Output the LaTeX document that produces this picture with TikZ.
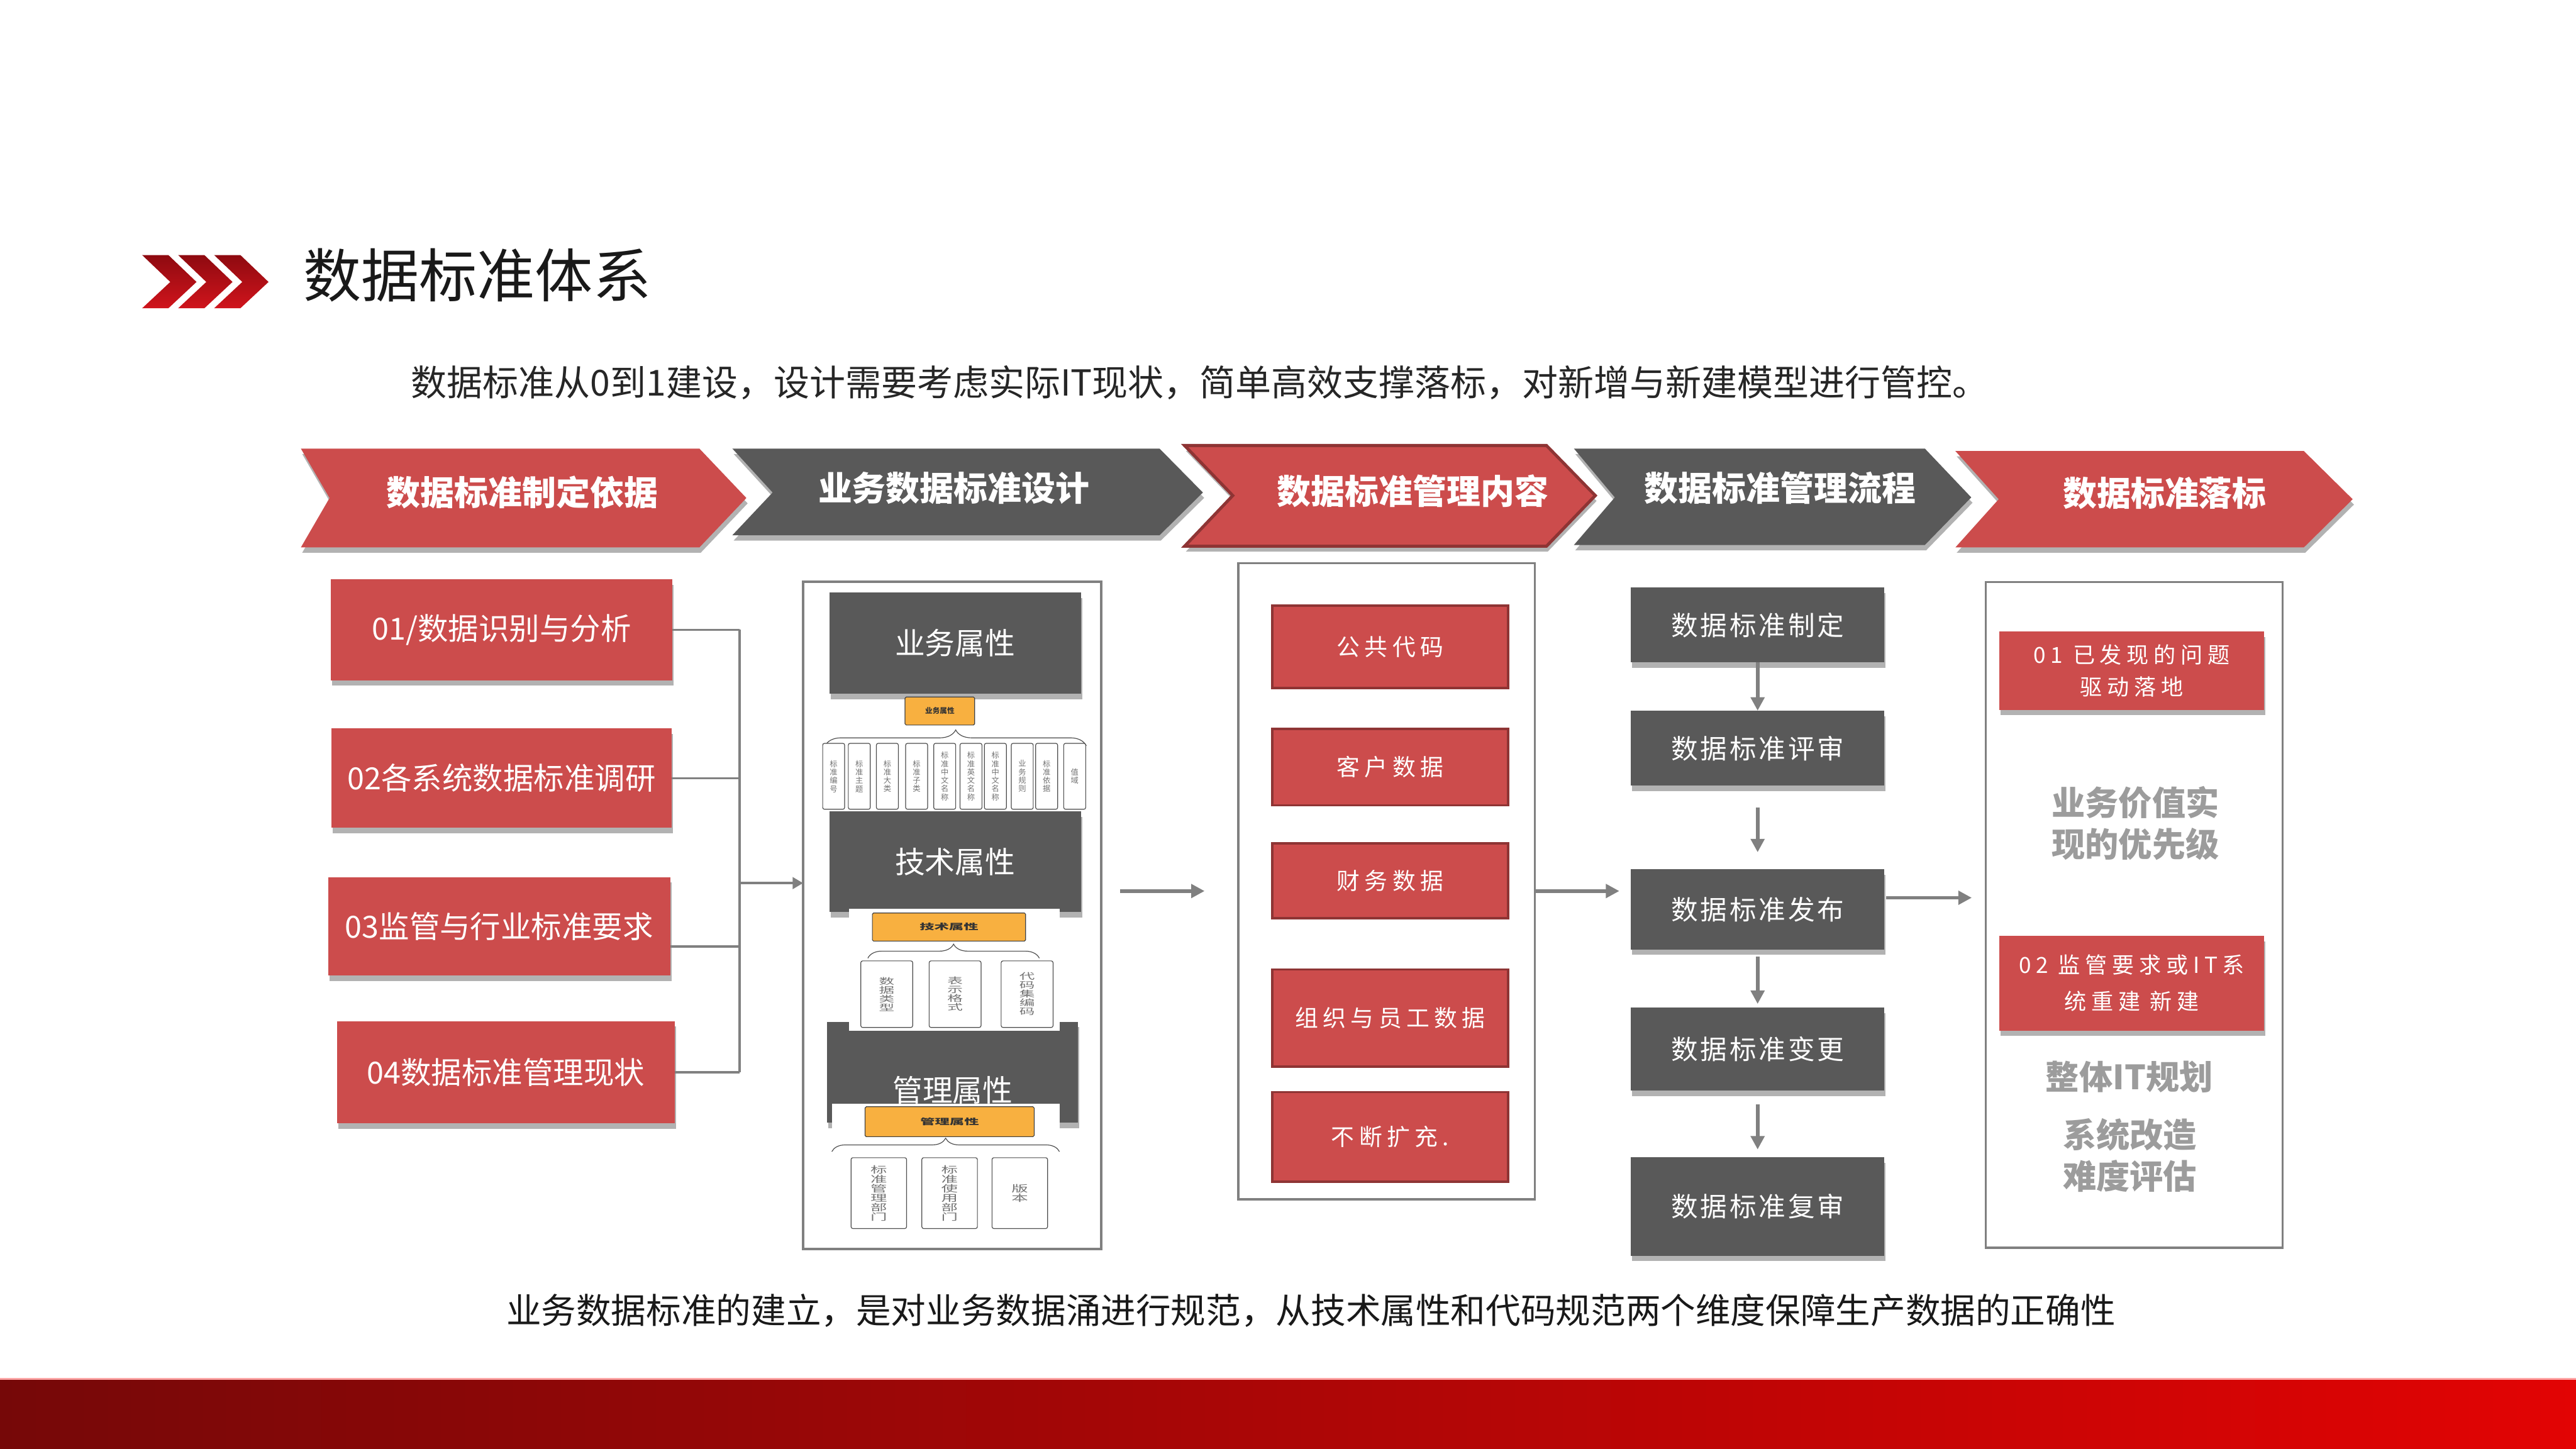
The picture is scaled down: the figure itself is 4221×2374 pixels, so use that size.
\documentclass[tikz,border=0pt]{standalone}
\usepackage{fontspec}
\setmainfont{Noto Sans CJK SC}
\newfontfamily\spacedA[LetterSpace=9]{Noto Sans CJK SC}
\newfontfamily\spacedB[LetterSpace=20]{Noto Sans CJK SC}
\newfontfamily\spacedC[LetterSpace=22]{Noto Sans CJK SC}
\newfontfamily\wideCJK[FakeStretch=1.8]{Noto Sans CJK SC}
\usetikzlibrary{arrows.meta, shadows, decorations.pathreplacing}

\definecolor{boxred}{HTML}{CC4C4C}
\definecolor{darkred}{HTML}{8E3434}
\definecolor{boxgray}{HTML}{595959}
\definecolor{linegray}{HTML}{808080}
\definecolor{attrorange}{HTML}{F8B040}
\definecolor{softgray}{HTML}{9C9C9C}
\definecolor{chevdark}{HTML}{8E0A10}
\definecolor{chevred}{HTML}{D0141C}
\definecolor{banddark}{HTML}{760808}
\definecolor{bandred}{HTML}{E20404}

\begin{document}
\begin{tikzpicture}[x=0.01cm, y=-0.01cm,
    >={Triangle[length=0.22cm, width=0.22cm]},
    boxshadow/.style={drop shadow={shadow xshift=0.6pt, shadow yshift=-2.5pt, fill=black, opacity=0.3}},
    redbox/.style={fill=boxred, text=white, inner sep=0pt, outer sep=0pt, boxshadow, font=\fontsize{14.2pt}{16pt}\selectfont},
    greybox/.style={fill=boxgray, text=white, inner sep=0pt, outer sep=0pt, boxshadow},
    panel/.style={draw=linegray, line width=0.035cm, fill=white, inner sep=0pt, outer sep=0pt},
    itembox/.style={fill=boxred, draw=darkred, line width=0.04cm, text=white, inner sep=0pt, outer sep=0pt, font=\spacedB\fontsize{10.8pt}{12pt}\selectfont},
    orangebox/.style={fill=attrorange, draw=black!75, line width=0.012cm, rounded corners=0.02cm, inner sep=0pt, text=black!80},
    leafbox/.style={draw=black!70, line width=0.012cm, rounded corners=0.03cm, fill=white, inner sep=0pt, align=center, text=black!55},
    attrbrace/.style={decorate, draw=black!70, line width=0.012cm},
    conn/.style={draw=linegray, line width=0.035cm},
    arr/.style={draw=linegray, line width=0.06cm, ->},
    bannertxt/.style={text=white, font=\bfseries\fontsize{15.8pt}{18pt}\selectfont},
    softtxt/.style={text=softgray, align=center, font=\bfseries\fontsize{15.6pt}{19.5pt}\selectfont}
  ]
  \useasboundingbox (0,0) rectangle (4221,2374);
  \fill[white] (0,0) rectangle (4221,2374);

  % --- title ---
  \foreach \dx in {0,59,118}
    \shade[top color=chevdark, bottom color=chevred]
      ({233+\dx},418) -- ({276+\dx},418) -- ({322+\dx},462) -- ({276+\dx},505)
      -- ({233+\dx},505) -- ({279+\dx},462) -- cycle;
  \node[text=black!90, font=\fontsize{27pt}{30pt}\selectfont] (title) at (782,451) {数据标准体系};
  \node[text=black!85, font=\fontsize{16.7pt}{19pt}\selectfont] (sub) at (1966,627)
    {数据标准从0到1建设，设计需要考虑实际IT现状，简单高效支撑落标，对新增与新建模型进行管控。};

  % --- banner chevrons ---
  \fill[boxred, boxshadow] (493,735) -- (1146,735) -- (1223,816) -- (1146,897) -- (493,897) -- (540,816) -- cycle;
  \node[bannertxt] (h1) at (856,807) {数据标准制定依据};
  \fill[boxgray, boxshadow] (1200,735) -- (1900,735) -- (1971,807) -- (1900,877) -- (1200,877) -- (1266,807) -- cycle;
  \node[bannertxt] (h2) at (1563,800) {业务数据标准设计};
  \draw[fill=boxred, draw=darkred, line width=0.05cm, boxshadow] (1941,730) -- (2534,730) -- (2614,812) -- (2534,895) -- (1941,895) -- (2020,812) -- cycle;
  \node[bannertxt] (h3) at (2315,805) {数据标准管理内容};
  \fill[boxgray, boxshadow] (2579,735) -- (3154,735) -- (3230,815) -- (3154,893) -- (2579,893) -- (2646,815) -- cycle;
  \node[bannertxt] (h4) at (2917,800) {数据标准管理流程};
  \fill[boxred, boxshadow] (3204,739) -- (3775,739) -- (3855,818) -- (3775,897) -- (3204,897) -- (3275,818) -- cycle;
  \node[bannertxt] (h5) at (3547,808) {数据标准落标};

  % --- column 1: basis ---
  \node[redbox, minimum width=5.59cm, minimum height=1.65cm] (b01) at (822,1032) {01/数据识别与分析};
  \node[redbox, minimum width=5.57cm, minimum height=1.63cm] (b02) at (822,1275) {02各系统数据标准调研};
  \node[redbox, minimum width=5.60cm, minimum height=1.61cm] (b03) at (818,1518) {03监管与行业标准要求};
  \node[redbox, minimum width=5.54cm, minimum height=1.67cm] (b04) at (829,1757) {04数据标准管理现状};

  \coordinate (bus) at (1212,1032);
  \coordinate (j3) at (1212,1551);
  \coordinate (busm) at (1212,1447);
  \draw[conn] (b01.east) -- (bus);
  \draw[conn] (b02.east) -- (b02.east -| bus);
  \draw[conn] (b03.east |- j3) -- (j3);
  \draw[conn] (b04.east) -- (b04.east -| bus);
  \draw[conn] (bus) -- (b04.east -| bus);

  % --- column 2: design ---
  \node[panel, line width=0.04cm, minimum width=4.88cm, minimum height=10.93cm] (design) at (1560,1500) {};
  \draw[conn, -{Triangle[length=0.17cm, width=0.19cm]}] (busm) -- (busm -| design.west);

  \node[greybox, minimum width=4.12cm, minimum height=1.66cm, font=\fontsize{14pt}{16pt}\selectfont] (battr) at (1565,1054) {业务属性};
  \node[greybox, minimum width=4.12cm, minimum height=1.65cm, font=\fontsize{14pt}{16pt}\selectfont] (tattr) at (1565,1412) {技术属性};
  \node[greybox, minimum width=4.11cm, minimum height=1.65cm] (mattr) at (1561,1757) {};
  \node[text=white, font=\fontsize{14pt}{16pt}\selectfont] (mtxt) at (1561,1786) {管理属性};
  \fill[white] (1391,1489) rectangle (1736,1689);
  \fill[white] (1363,1809) rectangle (1736,2018);

  % business attributes
  \node[orangebox, minimum width=1.14cm, minimum height=0.46cm, font=\bfseries\fontsize{3.4pt}{4pt}\selectfont] (o1) at (1540,1165) {业务属性};
  \draw[attrbrace, decoration={brace, amplitude=0.26cm}] (1352,1222) -- (1780,1222);
  \foreach \cx/\lbl [count=\i] in {1366/{标\\准\\编\\号}, 1408/{标\\准\\主\\题}, 1454/{标\\准\\大\\类},
      1502/{标\\准\\子\\类}, 1548/{标\\准\\中\\文\\名\\称}, 1591/{标\\准\\英\\文\\名\\称},
      1631/{标\\准\\中\\文\\名\\称}, 1675/{业\\务\\规\\则}, 1715/{标\\准\\依\\据}, 1761/{值\\域}}
    \node[leafbox, minimum width=0.36cm, minimum height=1.08cm, font=\fontsize{3.6pt}{3.9pt}\selectfont] (biz\i) at (\cx,1272) {\lbl};

  % technical attributes
  \node[orangebox, minimum width=2.51cm, minimum height=0.46cm, font=\bfseries\wideCJK\fontsize{3.8pt}{4.5pt}\selectfont] (o2) at (1555,1519) {技术属性};
  \draw[attrbrace, decoration={brace, amplitude=0.23cm}] (1422,1570) -- (1703,1570);
  \foreach \cx/\lbl [count=\i] in {1453/{数\\据\\类\\型}, 1565/{表\\示\\格\\式}, 1683/{代\\码\\集\\编\\码}}
    \node[leafbox, minimum width=0.85cm, minimum height=1.09cm, font=\wideCJK\fontsize{4pt}{4.1pt}\selectfont] (tec\i) at (\cx,1629) {\lbl};

  % management attributes
  \node[orangebox, minimum width=2.77cm, minimum height=0.49cm, font=\bfseries\wideCJK\fontsize{3.8pt}{4.5pt}\selectfont] (o3) at (1556,1838) {管理属性};
  \draw[attrbrace, decoration={brace, amplitude=0.22cm}] (1363,1887) -- (1736,1887);
  \foreach \cx/\lbl [count=\i] in {1440/{标\\准\\管\\理\\部\\门}, 1556/{标\\准\\使\\用\\部\\门}, 1671/{版\\本}}
    \node[leafbox, minimum width=0.91cm, minimum height=1.16cm, font=\wideCJK\fontsize{4.3pt}{4.4pt}\selectfont] (mgt\i) at (\cx,1955) {\lbl};

  % --- column 3: content ---
  \node[panel, minimum width=4.86cm, minimum height=10.42cm] (content) at (2272,1444) {};
  \node[itembox, minimum width=3.86cm, minimum height=1.35cm] (c1) at (2278,1060) {公共代码};
  \node[itembox, minimum width=3.86cm, minimum height=1.25cm] (c2) at (2278,1257) {客户数据};
  \node[itembox, minimum width=3.86cm, minimum height=1.23cm] (c3) at (2278,1443) {财务数据};
  \node[itembox, minimum width=3.86cm, minimum height=1.59cm] (c4) at (2278,1668) {组织与员工数据};
  \node[itembox, minimum width=3.86cm, minimum height=1.47cm] (c5) at (2278,1863) {不断扩充.};

  \coordinate (a1) at (1900,1460);
  \draw[arr, shorten <=0.31cm, shorten >=0.55cm] (design.east |- a1) -- (content.west |- a1);

  % --- column 4: process ---
  \foreach \cy/\hh/\lbl [count=\i] in {1024/1.23/数据标准制定, 1226/1.23/数据标准评审, 1490/1.31/数据标准发布,
      1719/1.36/数据标准变更, 1977/1.61/数据标准复审}
    \node[greybox, minimum width=4.15cm, minimum height=\hh cm, font=\spacedA\fontsize{12.5pt}{14pt}\selectfont] (p\i) at (2880,\cy) {\lbl};

  \draw[arr] (p1) -- (p2);
  \draw[arr, shorten <=0.36cm, shorten >=0.28cm] (p2) -- (p3);
  \draw[arr, shorten <=0.12cm, shorten >=0.06cm] (p3) -- (p4);
  \draw[arr, shorten <=0.22cm, shorten >=0.13cm] (p4) -- (p5);
  \draw[arr, shorten >=0.19cm] (content.east |- a1) -- (p3.west |- a1);

  % --- column 5: landing ---
  \node[panel, minimum width=4.86cm, minimum height=10.90cm] (land) at (3497,1499) {};
  \coordinate (a2) at (3150,1471);
  \draw[arr, shorten <=0.03cm, shorten >=0.23cm] (p3.east |- a2) -- (land.west |- a2);

  \node[redbox, minimum width=4.33cm, minimum height=1.28cm, align=center, font=\spacedC\fontsize{10.3pt}{15pt}\selectfont] (l1) at (3493,1099) {01 已发现的问题\\驱动落地};
  \node[softtxt] (s1) at (3499,1349) {业务价值实\\现的优先级};
  \node[redbox, minimum width=4.33cm, minimum height=1.55cm, align=center, font=\spacedC\fontsize{10.3pt}{17pt}\selectfont] (l2) at (3493,1611) {02 监管要求或IT系\\统重建 新建};
  \node[softtxt] (s2) at (3489,1765) {整体IT规划};
  \node[softtxt] (s3) at (3490,1893) {系统改造\\难度评估};

  % --- caption and footer band ---
  \node[text=black!90, font=\fontsize{16.3pt}{19pt}\selectfont] (cap) at (2148,2148)
    {业务数据标准的建立，是对业务数据涌进行规范，从技术属性和代码规范两个维度保障生产数据的正确性};
  \shade[left color=banddark, right color=bandred] (0,2259) rectangle (4221,2374);
  \draw[red!35, line width=0.03cm] (0,2259) -- (4221,2259);
\end{tikzpicture}
\end{document}
